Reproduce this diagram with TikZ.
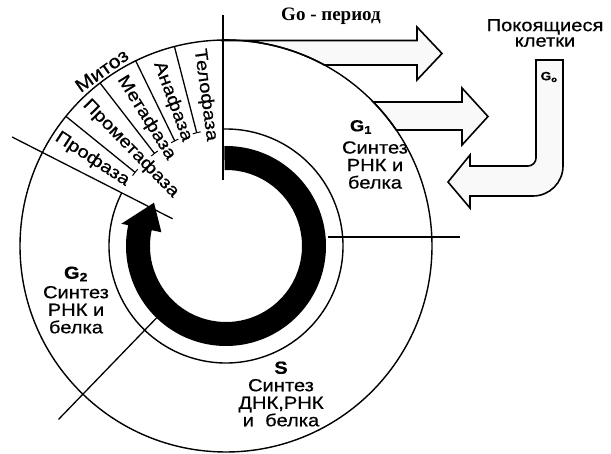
\documentclass[tikz,border=0pt]{standalone}
\usepackage{fontspec}
\setmainfont[FakeStretch=1.15,FakeBold=0.6]{Liberation Sans}
\newfontfamily\serifb{Liberation Serif}
\usetikzlibrary{calc}
\begin{document}
\begin{tikzpicture}[x=1pt,y=1pt,
  ring/.style={line width=1.4pt},
  sep/.style={line width=1.3pt},
  bigarrow/.style={line width=1.6pt, fill=gray!5, line join=miter},
  phase/.style={font=\fontsize{17.5}{17}\selectfont, inner sep=0pt, anchor=west},
  blocktxt/.style={font=\fontsize{17.5}{17.5}\selectfont, align=center, inner sep=0pt},
]
\useasboundingbox (0,0) rectangle (611,454);
\coordinate (C) at (226,208);

% big outlined arrows (drawn first)
\draw[bigarrow] (222,413.5) -- (417,413.5) -- (417,427) -- (442,400.5) -- (417,374) -- (417,389) -- (324.4,389)
  arc[start angle=61.5, end angle=91.1, radius=206] -- cycle;
\draw[bigarrow] (373.3,352) -- (462,352) -- (462,366) -- (488,337.5) -- (462,309) -- (462,324) -- (396.2,324)
  arc[start angle=34.27, end angle=44.35, radius=206] -- cycle;
\draw[bigarrow] (470,288) -- (528,288) arc[start angle=-90, end angle=0, radius=8] -- (536,394) -- (563,394)
  -- (563,288) arc[start angle=0, end angle=-90, radius=30] -- (470,258) -- (470,246) -- (448,272) -- (470,299) -- cycle;

% circles
\draw[ring] (C) circle[radius=206];
\draw[ring] ($(C)+(153:117)$) arc[start angle=153, end angle=451, radius=117];

% black ring arrow
\fill ($(C)+(91:100)$) arc[start angle=91, end angle=-192, radius=100]
  -- ($(C)+(-192:107)$) -- ($(C)+(-211:84)$) -- ($(C)+(-192:66)$) -- ($(C)+(-192:76)$)
  arc[start angle=-192, end angle=91, radius=76] -- cycle;

% radial lines
\draw[sep] (223,439) -- (223,274);
\draw[sep] ($(C)+(153:60)$) -- ($(C)+(153:240)$);
\draw[sep] (328,217) -- (460,217);
\draw[sep] ($(C)+(226:100)$) -- ($(C)+(226:241)$);
\foreach \a in {104.5,116,127.7,141} {
  \draw[sep] ($(C)+(\a:117)$) -- ($(C)+(\a:206)$);
  \draw[line width=1pt] ($(C)+(\a-2:117)$) arc[start angle=\a-2, end angle=\a+2, radius=117];
}

% phase labels
\node[phase, rotate=97.75-180]  (telo)  at ($(C)+(97.75:199)$)  {Телофаза};
\node[phase, rotate=110.25-180] (ana)   at ($(C)+(110.25:196)$) {Анафаза};
\node[phase, rotate=121.85-180] (meta)  at ($(C)+(121.85:199)$) {Метафаза};
\node[phase, rotate=134.35-180] (prom)  at ($(C)+(134.35:201)$) {Прометафаза};
\node[phase, rotate=147-180]    (pro)   at ($(C)+(147:202)$)    {Профаза};
\node[font=\fontsize{18.5}{18}\selectfont, inner sep=0pt, rotate=35.3] (mitoz) at ($(C)+(125.3:215)$) {Митоз};

% other texts
\node[font=\serifb\bfseries\fontsize{19}{19}\selectfont, inner sep=0pt] (go) at (331,438) {Go - период};
\node[font=\fontsize{17.5}{15.5}\selectfont, align=center, inner sep=0pt] (rest) at (545,421) {Покоящиеся\\клетки};
\node[font=\fontsize{12}{12}\selectfont, inner sep=0pt] (g0) at (549,377) {\textbf{G}\textsubscript{\textbf{o}}};

\node[font=\fontsize{16}{16}\selectfont, inner sep=0pt] (g1) at (361,327) {\textbf{G}\textsubscript{\textbf{1}}};
\node[blocktxt] (g1t) at (375,289) {Синтез\\РНК и\\белка};
\node[blocktxt] (s) at (281,60) {\textbf{S}\\Синтез\\ДНК,РНК\\и~~белка};
\node[blocktxt] (g2) at (76,154) {\textbf{G}\textsubscript{\textbf{2}}\\[2pt]Синтез\\РНК и\\белка};
\end{tikzpicture}
\end{document}
